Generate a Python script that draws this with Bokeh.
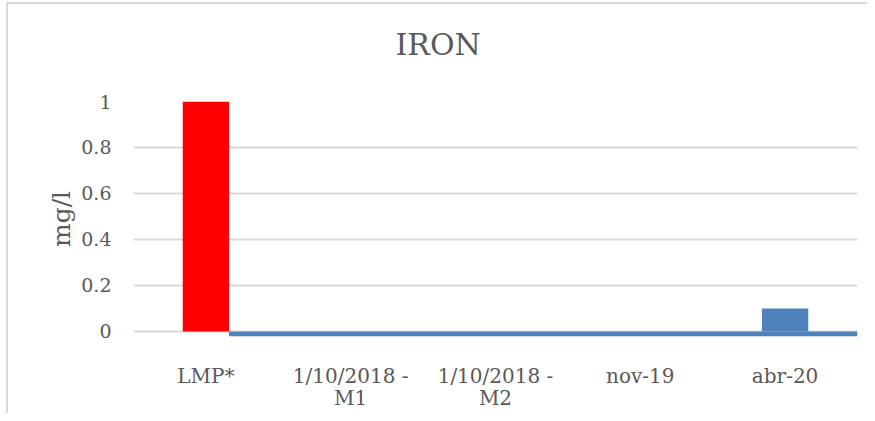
from bokeh.plotting import figure
from bokeh.models import FixedTicker, Range1d, Title
from bokeh.embed import file_html
from bokeh.resources import INLINE

title_text = "IRON"
categories = ["LMP*", "1/10/2018 -\nM1", "1/10/2018 -\nM2", "nov-19", "abr-20"]
lmp_values = [1.0, 0, 0, 0, 0]
sample_values = [0, 0, 0, 0, 0.1]
y_ticks = [0, 0.2, 0.4, 0.6, 0.8, 1]
y_tick_labels = ["0", "0.2", "0.4", "0.6", "0.8", "1"]

BAR_W = 0.32
RED = "#FF0000"
BLUE = "#4F81BD"
TXT = "#595959"
GRID = "#D9D9D9"
FONT = "DejaVu Serif"

xs = list(range(len(categories)))
W, H = 867, 413
Y_MIN, Y_MAX = -0.022, 1.0

p = figure(width=W, height=H, output_backend="svg", toolbar_location=None,
           title=None,
           x_range=Range1d(-0.5, len(categories) - 0.5),
           y_range=Range1d(Y_MIN, Y_MAX),
           min_border_left=133, min_border_right=10,
           min_border_top=101, min_border_bottom=76)

# spacer between frame and title, then the title itself
p.add_layout(Title(text=" ", text_font_size="10px", standoff=22), "above")
p.add_layout(Title(text=title_text, align="left", offset=262, text_font=FONT,
                   text_font_size="30px", text_font_style="normal",
                   text_color=TXT, standoff=10), "above")

# blue baseline strip of the measurement series
p.quad(left=[xs[0] + BAR_W / 2], right=[len(categories) - 0.5], bottom=[Y_MIN], top=[0],
       fill_color=BLUE, line_color=None)

p.vbar(x=xs, top=lmp_values, width=BAR_W, fill_color=RED, line_color=None)
p.vbar(x=xs, top=sample_values, width=BAR_W, fill_color=BLUE, line_color=None)

p.outline_line_color = None
p.background_fill_color = "white"
p.border_fill_color = "white"
p.border_fill_alpha = 0

# chart-area border (left and top edges), drawn behind the transparent border area
p.styles = {"box-shadow": "inset 6px 2px 0 0 #FFFFFF, inset 8px 4px 0 0 #D9D9D9"}

p.xgrid.grid_line_color = None
p.ygrid.grid_line_color = GRID
p.ygrid.grid_line_width = 2
p.ygrid.ticker = FixedTicker(ticks=y_ticks)
p.ygrid.level = "underlay"

p.xaxis.ticker = FixedTicker(ticks=xs)
p.xaxis.major_label_overrides = {i: c for i, c in enumerate(categories)}
p.yaxis.ticker = FixedTicker(ticks=y_ticks)
p.yaxis.major_label_overrides = {t: l for t, l in zip(y_ticks, y_tick_labels)}

for ax in (p.xaxis[0], p.yaxis[0]):
    ax.axis_line_color = None
    ax.major_tick_line_color = None
    ax.minor_tick_line_color = None
    ax.major_label_text_color = TXT
    ax.major_label_text_font = FONT

p.xaxis.major_label_text_font_size = "20px"
p.xaxis.major_label_text_line_height = 0.95
p.xaxis.major_label_standoff = 21
p.yaxis.major_label_text_font_size = "19px"
p.yaxis.major_label_standoff = 16

p.yaxis.axis_label = "mg/l"
p.yaxis.axis_label_text_font = FONT
p.yaxis.axis_label_text_font_size = "25px"
p.yaxis.axis_label_text_font_style = "normal"
p.yaxis.axis_label_text_color = TXT
p.yaxis.axis_label_standoff = 2

open("out.html", "w").write(file_html(p, INLINE))
